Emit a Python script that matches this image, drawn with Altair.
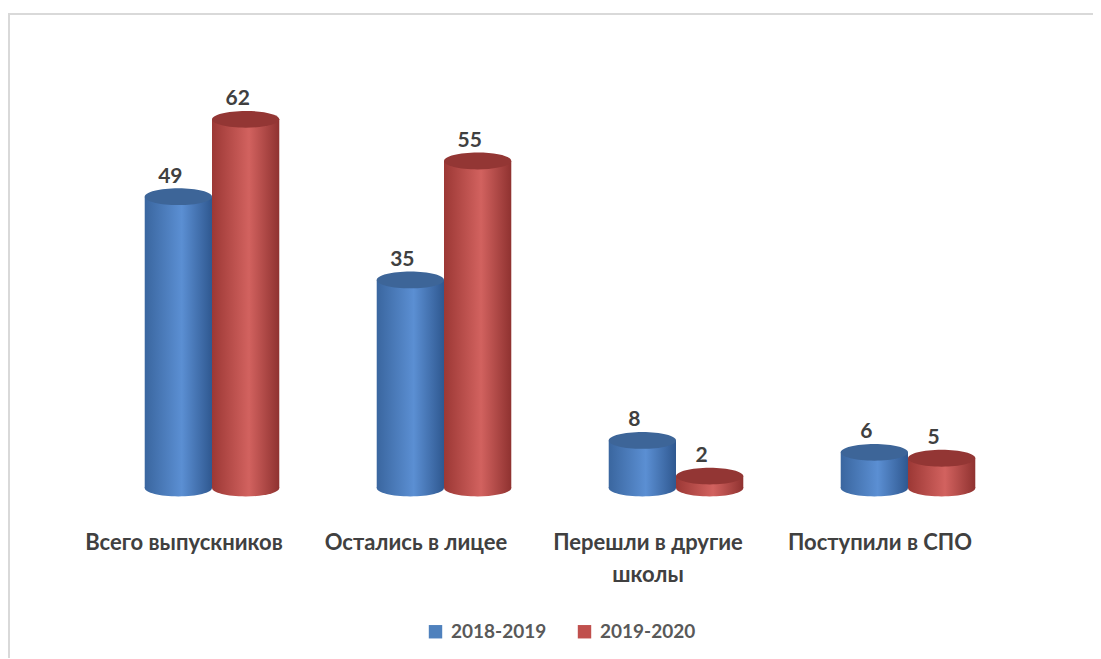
import altair as alt
import pandas as pd

categories = ["Всего выпускников", "Остались в лицее", "Перешли в другие школы", "Поступили в СПО"]
series = ["2018-2019", "2019-2020"]
values_2018 = [49, 35, 8, 6]
values_2019 = [62, 55, 2, 5]

rows = []
for c, v in zip(categories, values_2018):
    rows.append({"category": c, "series": series[0], "value": v})
for c, v in zip(categories, values_2019):
    rows.append({"category": c, "series": series[1], "value": v})
df = pd.DataFrame(rows)

FONT = "Lato"
TXT = "#404040"
ELLIPSE = "M -1 0 A 1 0.25 0 1 1 1 0 A 1 0.25 0 1 1 -1 0 Z"
BAR_SIZE = 67.3 ** 2

styles = {
    "2018-2019": {"stops": ["#3a669f", "#5b8fd3", "#2f5890"], "cap": "#3d6598", "legend": "#4f81bd"},
    "2019-2020": {"stops": ["#9c3835", "#d2625f", "#8f3230"], "cap": "#933634", "legend": "#c0504d"},
}

x_enc = alt.X(
    "category:N",
    sort=categories,
    scale=alt.Scale(paddingInner=0.42, paddingOuter=0.21),
    axis=alt.Axis(
        title=None, domain=False, ticks=False, labelPadding=44, labelOffset=-28,
        labelFont=FONT, labelFontWeight="bold", labelFontSize=22, labelColor=TXT,
        labelLimit=400, labelAngle=0, labelLineHeight=32, labelBaseline="top",
        labelExpr="datum.label == 'Перешли в другие школы' ? ['Перешли в другие', 'школы'] : datum.label",
    ),
)
xo_enc = alt.XOffset("series:N", scale=alt.Scale(domain=series, paddingInner=0, paddingOuter=0))
y_scale = alt.Scale(domain=[0, 74])

base = alt.Chart(df)
layers = []

# frame lines
frame = alt.Chart(alt.Data(values=[{"a": 1}]))
layers.append(frame.mark_rule(color="#d9d9d9", strokeWidth=2).encode(
    x=alt.value(-88), x2=alt.value(1010), y=alt.value(-34)))
layers.append(frame.mark_rule(color="#d9d9d9", strokeWidth=2).encode(
    x=alt.value(-87), y=alt.value(-34), y2=alt.value(620)))

for s in series:
    st = styles[s]
    grad = alt.Gradient(
        gradient="linear", x1=0, x2=1, y1=0, y2=0,
        stops=[alt.GradientStop(offset=0, color=st["stops"][0]),
               alt.GradientStop(offset=0.55, color=st["stops"][1]),
               alt.GradientStop(offset=1, color=st["stops"][2])],
    )
    sub = base.transform_filter(alt.datum.series == s)
    layers.append(sub.mark_point(shape=ELLIPSE, filled=True, fill=grad, opacity=1, size=BAR_SIZE, strokeWidth=0).encode(
        x=x_enc, xOffset=xo_enc, y=alt.Y("zero:Q", scale=y_scale, axis=None)
    ).transform_calculate(zero="0"))
    layers.append(sub.mark_bar(fill=grad, strokeWidth=0).encode(
        x=x_enc, xOffset=xo_enc, y=alt.Y("value:Q", scale=y_scale, axis=None)))
    layers.append(sub.mark_point(shape=ELLIPSE, filled=True, fill=st["cap"], opacity=1, size=BAR_SIZE, strokeWidth=0).encode(
        x=x_enc, xOffset=xo_enc, y=alt.Y("value:Q", scale=y_scale, axis=None)))

# legend carrier
layers.append(base.mark_square(opacity=0, size=1).encode(
    x=x_enc, xOffset=xo_enc, y=alt.Y("value:Q", scale=y_scale, axis=None),
    color=alt.Color("series:N", scale=alt.Scale(domain=series, range=[styles[s]["legend"] for s in series]),
                    legend=alt.Legend(title=None, orient="none", legendX=330, legendY=574, direction="horizontal",
                                      symbolType="square", symbolSize=180, symbolOpacity=1, symbolStrokeWidth=0,
                                      labelFont=FONT, labelFontWeight="bold", labelFontSize=19, labelColor="#595959",
                                      columnPadding=28, labelOffset=6)),
))

# value labels
layers.append(base.mark_text(font=FONT, fontWeight="bold", fontSize=21, color=TXT, baseline="bottom", dy=-10, dx=-8).encode(
    x=x_enc, xOffset=xo_enc, y=alt.Y("value:Q", scale=y_scale, axis=None), text="value:Q"))

chart = alt.layer(*layers).properties(
    width=928, height=440,
    autosize=alt.AutoSizeParams(type="none"),
    padding={"left": 88, "top": 40, "right": 69, "bottom": 170},
).configure(background="white", view=alt.ViewConfig(stroke=None))

chart.save("out.html", embed_options={"renderer": "svg", "actions": False})
